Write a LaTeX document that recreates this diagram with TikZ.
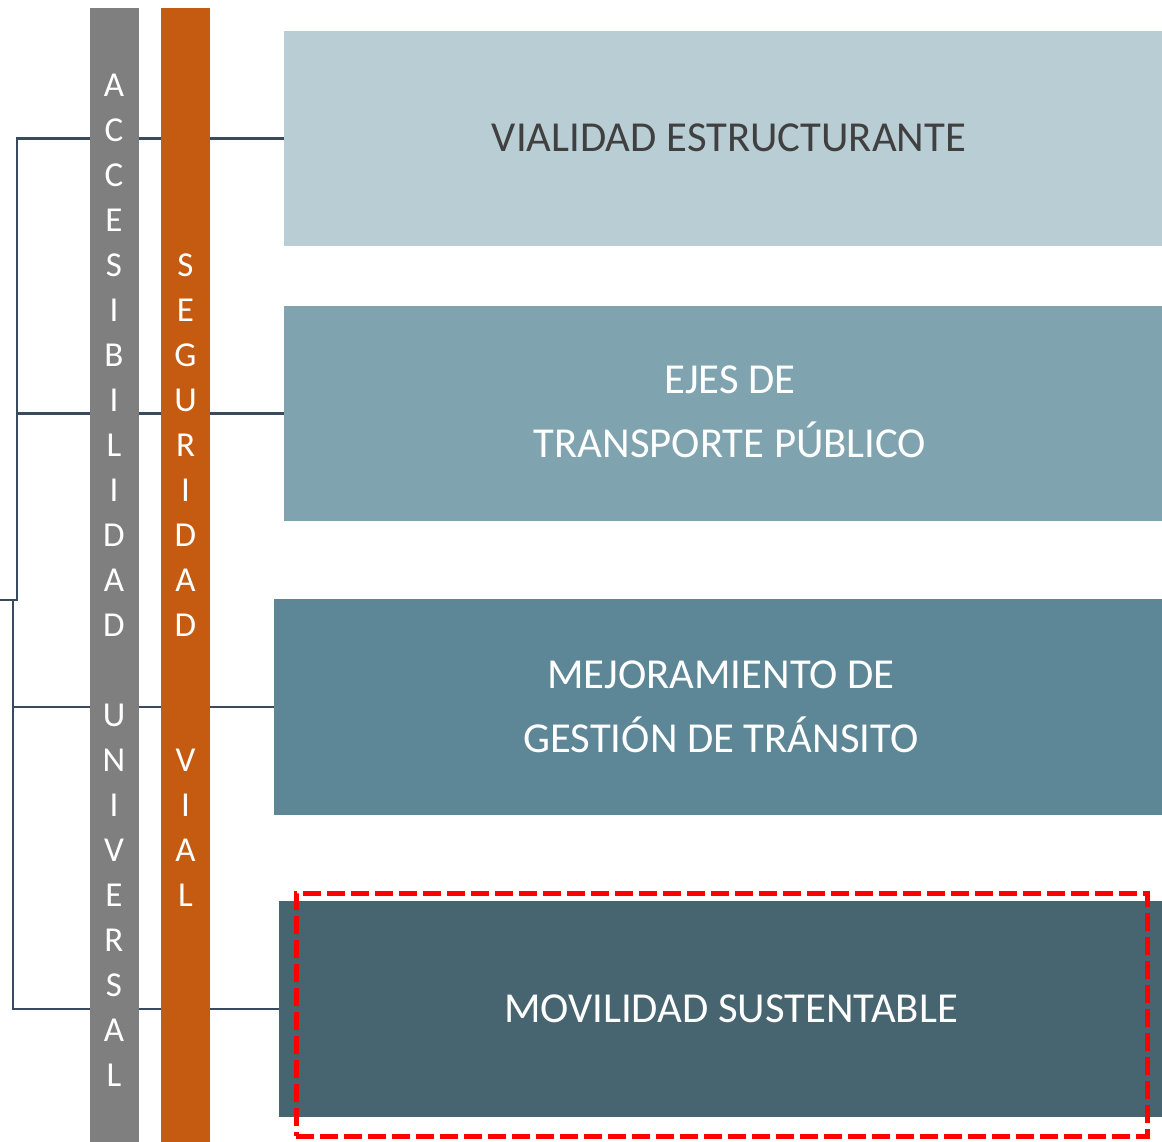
\documentclass[tikz,border=0pt]{standalone}
\usepackage{fontspec}
\setmainfont{Carlito}
\definecolor{cA}{HTML}{B9CDD5}
\definecolor{cB}{HTML}{7FA4B0}
\definecolor{cC}{HTML}{5D8796}
\definecolor{cD}{HTML}{476570}
\definecolor{barG}{HTML}{7F7F7F}
\definecolor{barO}{HTML}{C55A11}
\definecolor{lineC}{HTML}{3A4A5E}
\definecolor{txtD}{HTML}{404040}
\begin{document}
\begin{tikzpicture}[x=1pt,y=-1pt,
  box/.style={rectangle,inner sep=0pt,outer sep=0pt,draw=none},
  boxtext/.style={align=center,font=\fontsize{42.7}{64}\selectfont,inner sep=0pt},
  bar/.style={rectangle,inner sep=0pt,outer sep=0pt,minimum width=49pt,minimum height=1140pt,anchor=north},
  barletter/.style={text=white,font=\fontsize{35}{40}\selectfont,inner sep=0pt},
  conn/.style={draw=lineC,line width=2.2pt},
  hilite/.style={draw=red,line width=5pt,dash pattern=on 18pt off 6pt,rectangle,inner sep=0pt,fill=none}]
\useasboundingbox (0,0) rectangle (1162,1142);
% boxes
\node[box,fill=cA,minimum width=878pt,minimum height=215pt] (box1) at (723,138.5) {};
\node[box,fill=cB,minimum width=878pt,minimum height=215pt] (box2) at (723,413.5) {};
\node[box,fill=cC,minimum width=888pt,minimum height=216pt] (box3) at (718,707) {};
\node[box,fill=cD,minimum width=883pt,minimum height=216pt] (box4) at (720.5,1009) {};
% bracket connectors
\coordinate (b1) at (17,138.5);
\coordinate (b2) at (17,413.5);
\coordinate (j1) at (17,600);
\coordinate (j0) at (0,600);
\coordinate (j2) at (13,600);
\coordinate (b3) at (13,707);
\coordinate (b4) at (13,1009);
\draw[conn] (box1.west) -- (b1) -- (j1) -- (j0);
\draw[conn] (b2) -- (box2.west);
\draw[conn] (j2) -- (b4) -- (box4.west);
\draw[conn] (b3) -- (box3.west);
% bars
\node[bar,fill=barG] (barG) at (114,8) {};
\node[bar,fill=barO] (barO) at (185.5,8) {};
\foreach \l [count=\i from 0] in {A,C,C,E,S,I,B,I,L,I,D,A,D,{},U,N,I,V,E,R,S,A,L}
  \node[barletter] (g\i) at (114,85+45*\i) {\l};
\foreach \l [count=\i from 4] in {S,E,G,U,R,I,D,A,D,{},{},V,I,A,L}
  \node[barletter] (o\i) at (185.5,85+45*\i) {\l};
% texts
\node[boxtext,text=txtD] (t1) at (729,138) {VIALIDAD ESTRUCTURANTE};
\node[boxtext,text=white] (t2) at (730,412) {EJES DE\\TRANSPORTE PÚBLICO};
\node[boxtext,text=white] (t3) at (721,707) {MEJORAMIENTO DE\\GESTIÓN DE TRÁNSITO};
\node[boxtext,text=white] (t4) at (731,1009) {MOVILIDAD SUSTENTABLE};
% highlight
\node[hilite,minimum width=851pt,minimum height=243pt] (hl) at (721.5,1014.5) {};
\end{tikzpicture}
\end{document}
